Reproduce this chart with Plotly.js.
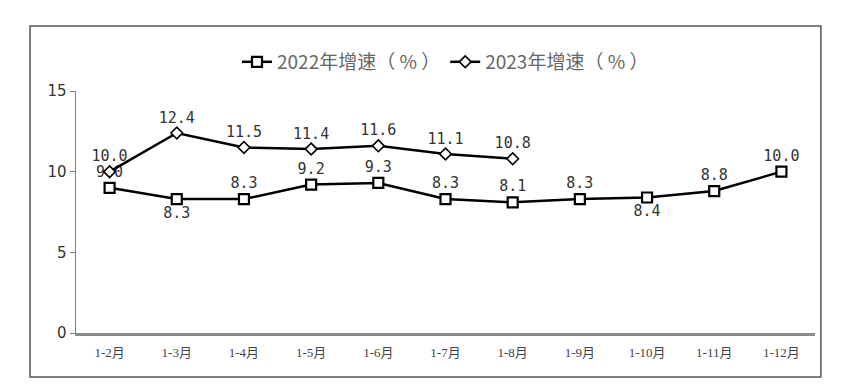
<!DOCTYPE html>
<html>
<head>
<meta charset="utf-8">
<script src="https://cdn.plot.ly/plotly-3.0.1.min.js"></script>
<style>html,body{margin:0;padding:0;background:#fff;}#chart{width:845px;height:387px;}</style>
</head>
<body>
<div id="chart"></div>
<script>
const categories = ["1-2月","1-3月","1-4月","1-5月","1-6月","1-7月","1-8月","1-9月","1-10月","1-11月","1-12月"];
const growth2022 = [9.0, 8.3, 8.3, 9.2, 9.3, 8.3, 8.1, 8.3, 8.4, 8.8, 10.0];
const growth2023 = [10.0, 12.4, 11.5, 11.4, 11.6, 11.1, 10.8];
const seriesNames = ["2022年增速（ % ）", "2023年增速（ % ）"];
const yTicks = [0, 5, 10, 15];

const pos2022 = ["top center","bottom center","top center","top center","top center","top center","top center","top center","bottom center","top center","top center"];

const labelFont = {family: "DejaVu Sans Mono", size: 15, color: "#333"};

const traces = [
  {
    x: categories, y: growth2022, name: seriesNames[0], type: "scatter", mode: "lines+markers+text",
    text: growth2022.map(v => v.toFixed(1)), textposition: pos2022, textfont: labelFont,
    line: {color: "#000", width: 2.5},
    marker: {symbol: "square", size: 10, color: "#fff", line: {color: "#000", width: 2.2}},
    cliponaxis: false
  },
  {
    x: categories.slice(0, growth2023.length), y: growth2023, name: seriesNames[1], type: "scatter", mode: "lines+markers+text",
    text: growth2023.map(v => v.toFixed(1)), textposition: "top center", textfont: labelFont,
    line: {color: "#000", width: 2.5},
    marker: {symbol: "diamond", size: 9, color: "#fff", line: {color: "#000", width: 1.6}},
    cliponaxis: false
  }
];

const layout = {
  width: 845, height: 387,
  margin: {l: 76, r: 30, t: 91, b: 54},
  paper_bgcolor: "#fff", plot_bgcolor: "#fff",
  showlegend: true,
  legend: {orientation: "h", x: 0.5, xanchor: "center", y: 1.12, yanchor: "middle",
    font: {family: "Noto Sans CJK SC", size: 19, color: "#666"}, itemwidth: 30, bgcolor: "rgba(0,0,0,0)"},
  xaxis: {
    type: "category", categoryorder: "array", categoryarray: categories,
    range: [-0.5, categories.length - 0.5],
    showgrid: false, zeroline: false, showline: true, linecolor: "#8c8c8c", linewidth: 2.5,
    ticks: "outside", ticklen: 6, tickcolor: "rgba(0,0,0,0)",
    tickfont: {family: "Liberation Serif, Noto Sans CJK SC", size: 13, color: "#444"},
    fixedrange: true
  },
  yaxis: {
    range: [0, 15], tickvals: yTicks, showgrid: false, zeroline: false,
    showline: true, linecolor: "#7f7f7f", linewidth: 1.5,
    ticks: "outside", ticklen: 5, tickcolor: "#7f7f7f", tickwidth: 1,
    tickfont: {family: "DejaVu Sans", size: 15, color: "#333"},
    fixedrange: true
  },
  shapes: [{
    type: "rect", xref: "paper", yref: "paper",
    x0: -0.0622, x1: 1.008, y0: -0.1818, y1: 1.2686,
    line: {color: "#555", width: 1.5}, fillcolor: "rgba(0,0,0,0)", layer: "below"
  }],
  font: {family: "DejaVu Sans"}
};

Plotly.newPlot("chart", traces, layout, {staticPlot: true, displayModeBar: false});
</script>
</body>
</html>
